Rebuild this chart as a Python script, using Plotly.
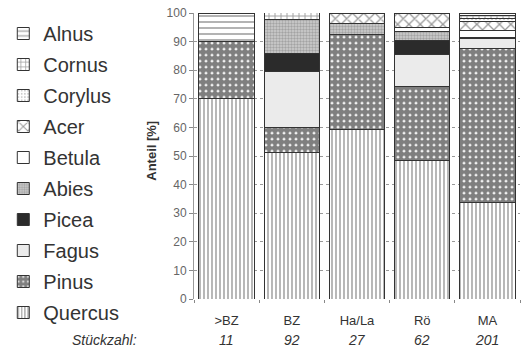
import plotly.graph_objects as go

categories = [">BZ", "BZ", "Ha/La", "Rö", "MA"]
counts = [11, 92, 27, 62, 201]

# species from bottom of stack to top (percent shares)
species = ["Quercus", "Pinus", "Fagus", "Picea", "Abies", "Betula", "Acer", "Corylus", "Cornus", "Alnus"]
quercus = [70.0, 51.1, 59.3, 48.4, 33.8]
pinus = [20.0, 8.7, 33.3, 25.8, 53.7]
fagus = [None, 19.6, None, 11.3, 3.5]
picea = [None, 6.5, None, 4.8, 0.5]
abies = [None, 12.0, 3.7, 3.2, None]
betula = [None, None, None, 1.6, 2.5]
acer = [None, None, 3.7, 4.8, 3.0]
corylus = [None, None, None, None, 1.0]
cornus = [None, 2.2, None, None, 1.0]
alnus = [10.0, None, None, None, 1.0]

values = [quercus, pinus, fagus, picea, abies, betula, acer, corylus, cornus, alnus]

styles = {
    "Quercus": dict(color="white", pattern=dict(shape="|", fgcolor="#333", bgcolor="white", size=4, solidity=0.35)),
    "Pinus": dict(color="white", pattern=dict(shape=".", fgcolor="#000", bgcolor="white", size=6, solidity=0.8)),
    "Fagus": dict(color="#ebebeb"),
    "Picea": dict(color="#2b2b2b"),
    "Abies": dict(color="#b0b0b0", pattern=dict(shape=".", fgcolor="#777", bgcolor="#cfcfcf", size=3, solidity=0.5)),
    "Betula": dict(color="white"),
    "Acer": dict(color="white", pattern=dict(shape="x", fgcolor="#333", bgcolor="white", size=8, solidity=0.3)),
    "Corylus": dict(color="white", pattern=dict(shape=".", fgcolor="#999", bgcolor="white", size=4, solidity=0.25)),
    "Cornus": dict(color="white", pattern=dict(shape="+", fgcolor="#444", bgcolor="white", size=6, solidity=0.3)),
    "Alnus": dict(color="white", pattern=dict(shape="-", fgcolor="#555", bgcolor="white", size=6, solidity=0.3)),
}

fig = go.Figure()
n = len(species)
for i, (name, vals) in enumerate(zip(species, values)):
    st = styles[name]
    marker = dict(color=st["color"], line=dict(color="#333", width=1))
    if "pattern" in st:
        marker["pattern"] = st["pattern"]
    fig.add_trace(go.Bar(x=categories, y=vals, name=name, marker=marker,
                         legendgroup=name, legendrank=n - i))

annotations = [
    dict(text="<i>Stückzahl:</i>", xref="paper", yref="paper",
         x=-0.168, y=-0.143, xanchor="right", yanchor="middle",
         showarrow=False, font=dict(size=14, color="#333")),
    dict(text="<b>Anteil [%]</b>", xref="paper", yref="paper", textangle=-90,
         x=-0.13, y=0.517, xanchor="center", yanchor="middle",
         showarrow=False, font=dict(size=13, color="#333")),
]
for c, k in zip(categories, counts):
    annotations.append(dict(text=f"<i>{k}</i>", x=c, xref="x", yref="paper", y=-0.143,
                            xanchor="center", yanchor="middle", showarrow=False,
                            font=dict(size=14, color="#333")))

fig.update_layout(
    width=523, height=351,
    barmode="stack", bargap=0.15,
    margin=dict(l=192, r=3, t=13, b=52),
    plot_bgcolor="white", paper_bgcolor="white",
    font=dict(family="Liberation Sans, Arial, sans-serif", color="#333"),
    legend=dict(x=-0.585, xanchor="left", y=0.9965, yanchor="top",
                traceorder="grouped", tracegroupgap=2, maxheight=345,
                font=dict(size=20, color="#333"), bgcolor="rgba(0,0,0,0)"),
    xaxis=dict(tickmode="array", tickvals=categories, ticktext=categories,
               tickfont=dict(size=13, color="#333"), ticks="outside", tickson="boundaries",
               ticklen=3, tickcolor="#888", showline=False, automargin=False,
               ticklabelstandoff=12),
    yaxis=dict(range=[0, 100], dtick=10, ticks="outside", ticklen=4, tickcolor="#888",
               tickfont=dict(size=12, color="#666"), showgrid=True, gridcolor="#999",
               griddash="dot", gridwidth=1, showline=True, linecolor="#999", zeroline=False,
               automargin=False),
    annotations=annotations,
)

fig.write_html("out.html", config={"displayModeBar": False},
               post_script="document.body.style.margin='0';")
